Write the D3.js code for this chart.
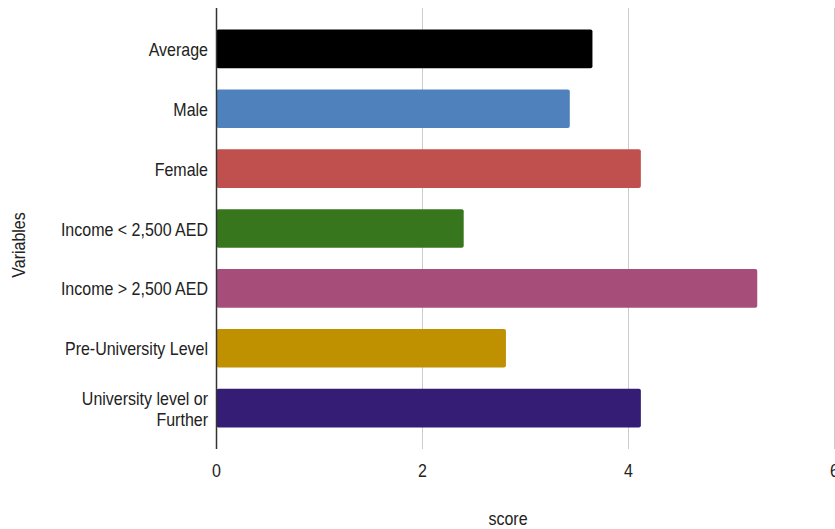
<!DOCTYPE html>
<html>
<head>
<meta charset="utf-8">
<script src="https://cdn.jsdelivr.net/npm/d3@7"></script>
<style>
  body { margin: 0; background: #fff; }
  text { font-family: "Liberation Sans", Arial, sans-serif; fill: #222; font-size: 16px; }
</style>
</head>
<body>
<svg id="chart" width="835" height="529"></svg>
<script>
var categories = ["Average", "Male", "Female", "Income < 2,500 AED", "Income > 2,500 AED", "Pre-University Level", "University level or Further"];
var labelLines = [["Average"], ["Male"], ["Female"], ["Income < 2,500 AED"], ["Income > 2,500 AED"], ["Pre-University Level"], ["University level or", "Further"]];
var scores = [3.65, 3.43, 4.12, 2.40, 5.25, 2.81, 4.12];
var barColors = ["#000000", "#4f81bd", "#c0504d", "#38761d", "#a64d79", "#bf9000", "#351c75"];
var xTicks = [0, 2, 4, 6];

var svg = d3.select("#chart");
var plotLeft = 216.5, plotRight = 834.5, plotTop = 8, plotBottom = 449;
var stretch = 1.2; // glyphs in the reference are a bit taller than wide

var x = d3.scaleLinear().domain([0, 6]).range([plotLeft, plotRight]);
var y = d3.scaleBand().domain(categories).range([plotTop, plotBottom]).paddingInner(0.356).paddingOuter(0.36);

function label(parent, tx, ty, str, anchor, rotate) {
    return parent.append("text")
        .attr("transform", "translate(" + tx + "," + ty + ")" + (rotate ? " rotate(-90)" : "") + " scale(1," + stretch + ")")
        .attr("text-anchor", anchor)
        .text(str);
}

// gridlines
svg.selectAll(".grid")
    .data(xTicks.filter(function(d) { return d > 0; }))
    .enter().append("line")
    .attr("x1", function(d) { return x(d); })
    .attr("x2", function(d) { return x(d); })
    .attr("y1", plotTop)
    .attr("y2", plotBottom)
    .attr("stroke", "#cccccc")
    .attr("stroke-width", 1);

// bars
var data = categories.map(function(c, i) { return { cat: c, val: scores[i], col: barColors[i] }; });
svg.selectAll(".bar")
    .data(data)
    .enter().append("rect")
    .attr("x", x(0))
    .attr("y", function(d) { return y(d.cat); })
    .attr("width", function(d) { return x(d.val) - x(0); })
    .attr("height", y.bandwidth())
    .attr("rx", 2)
    .attr("fill", function(d) { return d.col; });

// zero axis line
svg.append("line")
    .attr("x1", x(0)).attr("x2", x(0))
    .attr("y1", plotTop).attr("y2", plotBottom)
    .attr("stroke", "#333").attr("stroke-width", 1.5);

// x tick labels
xTicks.forEach(function(t) {
    label(svg, x(t), 477, t, "middle");
});

// y labels
categories.forEach(function(c, i) {
    var mid = y(c) + y.bandwidth() / 2;
    var lines = labelLines[i];
    if (lines.length === 1) {
        label(svg, 208, mid + 7, lines[0], "end");
    } else {
        label(svg, 208, mid - 3.5, lines[0], "end");
        label(svg, 208, mid + 17.5, lines[1], "end");
    }
});

// axis titles
label(svg, 508, 525, "score", "middle");
label(svg, 24.5, 245, "Variables", "middle", true);
</script>
</body>
</html>
